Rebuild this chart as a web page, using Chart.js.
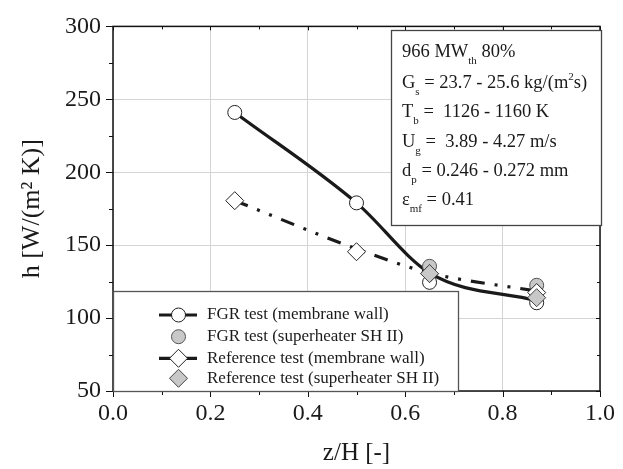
<!DOCTYPE html>
<html><head><meta charset="utf-8">
<script src="https://cdn.jsdelivr.net/npm/chart.js@4.4.1/dist/chart.umd.min.js"></script>
<style>html,body{margin:0;padding:0;background:#fff}canvas{display:block}</style>
</head><body>
<canvas id="c" width="623" height="469"></canvas>
<script>
// ---- data ----
const zMembrane = [0.25, 0.50, 0.65, 0.87];
const fgrMembrane = [241, 179, 124.5, 110.5];
const zSuperheater = [0.65, 0.87];
const fgrSuperheater = [135.5, 122.5];
const refMembrane = [180.5, 145.5, 130.5, 117.5];
const refSuperheater = [130.5, 114];
const fgrCurve = [241, 179, 131, 112];      // drawn trend line (FGR)
const refCurve = [180.5, 147.5, 131, 118.5]; // drawn trend line (reference)
const xTicks = [0.0, 0.2, 0.4, 0.6, 0.8, 1.0];
const xMinor = [0.1, 0.3, 0.5, 0.7, 0.9];
const yTicks = [50, 100, 150, 200, 250, 300];
const yMinor = [75, 125, 175, 225, 275];
const legendLabels = [
  'FGR test (membrane wall)',
  'FGR test (superheater SH II)',
  'Reference test (membrane wall)',
  'Reference test (superheater SH II)'
];
const infoLines = [
  [['966 MW',''],['th','sub'],[' 80%','']],
  [['G',''],['s','sub'],[' = 23.7 - 25.6 kg/(m',''],['2','sup'],['s)','']],
  [['T',''],['b','sub'],[' =  1126 - 1160 K','']],
  [['U',''],['g','sub'],[' =  3.89 - 4.27 m/s','']],
  [['d',''],['p','sub'],[' = 0.246 - 0.272 mm','']],
  [['\u03B5',''],['mf','sub'],[' = 0.41','']]
];

const FONT = '"Liberation Serif", "Times New Roman", serif';
const pts = (xs, ys) => xs.map((x, i) => ({x, y: ys[i]}));

const datasets = [
  { label: 'fgrCurve', data: pts(zMembrane, fgrCurve), showLine: true, pointRadius: 0,
    borderColor: '#1a1a1a', borderWidth: 3.2, cubicInterpolationMode: 'monotone', order: 10 },
  { label: 'refCurve', data: pts(zMembrane, refCurve), showLine: true, pointRadius: 0,
    borderColor: '#1a1a1a', borderWidth: 3.2, borderDash: [14, 10, 3, 10, 3, 10], borderCapStyle: 'butt',
    cubicInterpolationMode: 'monotone', order: 9 },
  { label: legendLabels[0], data: pts(zMembrane, fgrMembrane), showLine: false, pointStyle: 'circle',
    pointRadius: 7, backgroundColor: '#ffffff', borderColor: '#222', borderWidth: 1, order: 5 },
  { label: legendLabels[1], data: pts(zSuperheater, fgrSuperheater), showLine: false, pointStyle: 'circle',
    pointRadius: 7, backgroundColor: '#c8c8c8', borderColor: '#555', borderWidth: 1, order: 4 },
  { label: legendLabels[2], data: pts(zMembrane, refMembrane), showLine: false, pointStyle: 'rectRot',
    pointRadius: 9, backgroundColor: '#ffffff', borderColor: '#222', borderWidth: 1, order: 3 },
  { label: legendLabels[3], data: pts(zSuperheater, refSuperheater), showLine: false, pointStyle: 'rectRot',
    pointRadius: 9, backgroundColor: '#c8c8c8', borderColor: '#444', borderWidth: 1, order: 2 }
];

const decor = {
  id: 'decor',
  afterDatasetsDraw(chart) {
    const ctx = chart.ctx, a = chart.chartArea;
    const xs = chart.scales.x, ys = chart.scales.y;
    ctx.save();
    // frame
    ctx.strokeStyle = '#111'; ctx.lineWidth = 1.5;
    ctx.strokeRect(a.left, a.top, a.right - a.left, a.bottom - a.top);
    ctx.lineWidth = 1;
    ctx.beginPath();
    xTicks.forEach(v => { const p = Math.round(xs.getPixelForValue(v)) + 0.5;
      ctx.moveTo(p, a.bottom); ctx.lineTo(p, a.bottom + 6);
      ctx.moveTo(p, a.top); ctx.lineTo(p, a.top + 4); });
    xMinor.forEach(v => { const p = Math.round(xs.getPixelForValue(v)) + 0.5;
      ctx.moveTo(p, a.bottom); ctx.lineTo(p, a.bottom + 4);
      ctx.moveTo(p, a.top); ctx.lineTo(p, a.top + 3); });
    yTicks.forEach(v => { const p = Math.round(ys.getPixelForValue(v)) + 0.5;
      ctx.moveTo(a.left, p); ctx.lineTo(a.left - 7, p);
      ctx.moveTo(a.right, p); ctx.lineTo(a.right - 4, p); });
    yMinor.forEach(v => { const p = Math.round(ys.getPixelForValue(v)) + 0.5;
      ctx.moveTo(a.left, p); ctx.lineTo(a.left - 4, p);
      ctx.moveTo(a.right, p); ctx.lineTo(a.right - 3, p); });
    ctx.stroke();

    // legend box
    const lx0 = a.left, ly0 = 291, lx1 = 458, ly1 = a.bottom;
    ctx.fillStyle = '#fff';
    ctx.fillRect(lx0, ly0, lx1 - lx0, ly1 - ly0);
    ctx.strokeStyle = '#555'; ctx.lineWidth = 1.3;
    ctx.strokeRect(lx0 + 0.5, ly0 + 0.5, lx1 - lx0, ly1 - ly0);
    const rows = [315, 336.7, 358.3, 378.3];
    const mx = 178.5;
    legendLabels.forEach((lab, i) => {
      const ds = chart.data.datasets[i + 2];
      const y = rows[i];
      if (i === 0 || i === 2) {
        ctx.strokeStyle = '#1a1a1a'; ctx.lineWidth = 3.2; ctx.setLineDash([]);
        ctx.beginPath(); ctx.moveTo(159, y); ctx.lineTo(197, y); ctx.stroke();
      }
      ctx.fillStyle = ds.backgroundColor; ctx.strokeStyle = ds.borderColor; ctx.lineWidth = ds.borderWidth;
      ctx.beginPath();
      if (ds.pointStyle === 'circle') { ctx.arc(mx, y, ds.pointRadius, 0, Math.PI * 2); }
      else { const r = ds.pointRadius; ctx.moveTo(mx, y - r); ctx.lineTo(mx + r, y); ctx.lineTo(mx, y + r); ctx.lineTo(mx - r, y); ctx.closePath(); }
      ctx.fill(); ctx.stroke();
      ctx.fillStyle = '#1a1a1a';
      ctx.font = '17px ' + FONT; ctx.textBaseline = 'middle'; ctx.textAlign = 'left';
      ctx.fillText(lab, 207, y);
    });

    // info box
    const bx0 = 391, by0 = 30, bx1 = 601, by1 = 225;
    ctx.fillStyle = '#fff';
    ctx.fillRect(bx0, by0, bx1 - bx0, by1 - by0);
    ctx.strokeStyle = '#444'; ctx.lineWidth = 1.3;
    ctx.strokeRect(bx0 + 0.5, by0 + 0.5, bx1 - bx0, by1 - by0);
    const baselines = [57, 88, 117, 146.5, 176, 205];
    ctx.textBaseline = 'alphabetic'; ctx.fillStyle = '#1a1a1a';
    infoLines.forEach((segs, i) => {
      let x = 402; const by = baselines[i];
      segs.forEach(([t, kind]) => {
        let dy = 0;
        if (kind === 'sub') { ctx.font = '11px ' + FONT; dy = 7; }
        else if (kind === 'sup') { ctx.font = '11px ' + FONT; dy = -8; }
        else { ctx.font = '18.5px ' + FONT; }
        ctx.fillText(t, x, by + dy);
        x += ctx.measureText(t).width;
      });
    });
    ctx.restore();
  }
};

new Chart(document.getElementById('c'), {
  type: 'scatter',
  data: { datasets },
  options: {
    responsive: false, animation: false,
    layout: { padding: { top: 24, right: 16, left: 0, bottom: 0 } },
    plugins: { legend: { display: false }, tooltip: { enabled: false } },
    scales: {
      x: {
        type: 'linear', min: 0, max: 1, position: 'bottom',
        afterBuildTicks: s => { s.ticks = xTicks.map(v => ({ value: v })); },
        afterFit: s => { s.height = 78; },
        ticks: { callback: v => Number(v).toFixed(1), font: { family: FONT, size: 24 }, color: '#1a1a1a',
                 padding: 8, maxRotation: 0, autoSkip: false },
        grid: { color: '#d4d4d4', lineWidth: 1, drawTicks: false },
        border: { display: false },
        title: { display: true, text: 'z/H [-]', font: { family: FONT, size: 25 }, color: '#1a1a1a',
                 padding: { top: 0, bottom: 1 } }
      },
      y: {
        type: 'linear', min: 50, max: 300,
        afterBuildTicks: s => { s.ticks = yTicks.map(v => ({ value: v })); },
        afterFit: s => { s.width = 113; },
        ticks: { font: { family: FONT, size: 24 }, color: '#1a1a1a', padding: 12, autoSkip: false },
        grid: { color: '#d4d4d4', lineWidth: 1, drawTicks: false },
        border: { display: false },
        title: { display: true, text: 'h [W/(m\u00B2 K)]', font: { family: FONT, size: 26 }, color: '#1a1a1a',
                 padding: { top: 17, bottom: 0 } }
      }
    }
  },
  plugins: [decor]
});
</script>
</body></html>
